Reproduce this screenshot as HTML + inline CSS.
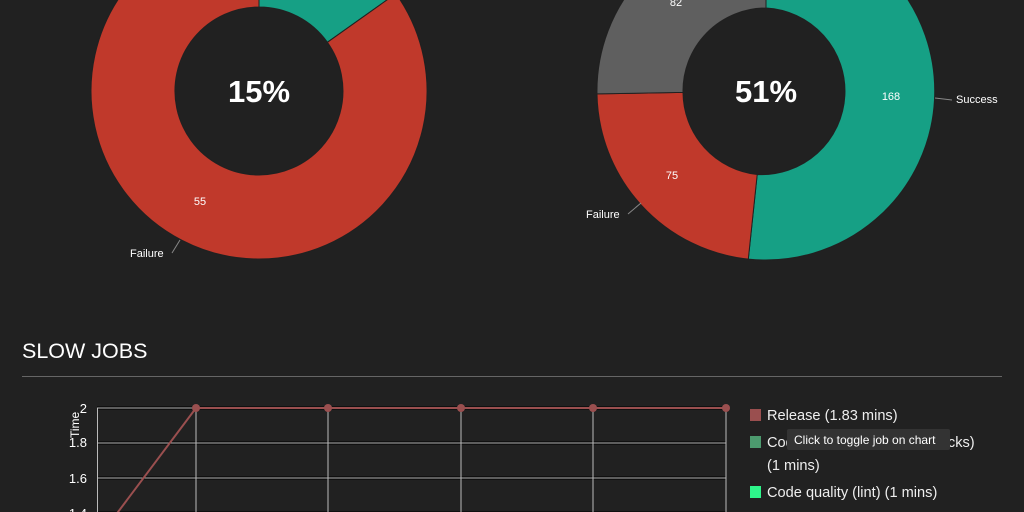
<!DOCTYPE html>
<html style="overflow:hidden;width:1024px;height:512px"><head><style>
html,body{margin:0;padding:0}
body{background:#212121;width:1024px;height:512px;overflow:hidden;position:relative;font-family:"Liberation Sans",sans-serif}
svg{display:block}
</style></head><body>
<svg width="1024" height="512" xmlns="http://www.w3.org/2000/svg" style="position:absolute;left:0;top:0">
<g stroke="#212121" stroke-width="1">
<path d="M259,-77 A168,168 0 0 1 395.9,-6.4 L327.4,42.3 A84,84 0 0 0 259,7 Z" fill="#16a085"/>
<path d="M395.9,-6.4 A168,168 0 1 1 259,-77 L259,7 A84,84 0 1 0 327.4,42.3 Z" fill="#c0392b"/>
<path d="M766,-78 A169,169 0 1 1 748.3,259.1 L757.2,174.5 A83,83 0 1 0 766,8 Z" fill="#16a085"/>
<path d="M748.3,259.1 A169,169 0 0 1 597,93.9 L683,92.4 A83,83 0 0 0 757.2,174.5 Z" fill="#c0392b"/>
<path d="M597,93.9 A169,169 0 0 1 766,-78 L766,8 A83,83 0 0 0 683,92.4 Z" fill="#5f5f5f"/>
</g>
<g font-weight="bold" fill="#fff" font-size="31" text-anchor="middle">
<text x="259" y="102">15%</text><text x="766" y="102">51%</text></g>
<g fill="#fff" font-size="11">
<text x="200" y="205" text-anchor="middle">55</text>
<text x="130" y="257">Failure</text>
<text x="891" y="100" text-anchor="middle">168</text>
<text x="956" y="103">Success</text>
<text x="672" y="179" text-anchor="middle">75</text>
<text x="586" y="218">Failure</text>
<text x="676" y="6" text-anchor="middle">82</text>
</g>
<g stroke="#888" stroke-width="1" fill="none">
<path d="M172,253 L180,240"/><path d="M935,98 L952,100"/><path d="M628,214 L641,203"/>
</g>
<text x="22" y="358" fill="#fff" font-size="21.5">SLOW JOBS</text>
<line x1="22" y1="376.5" x2="1002" y2="376.5" stroke="#666"/>
<g stroke="#000" stroke-width="3">
<line x1="97" y1="408" x2="726" y2="408"/><line x1="97" y1="443" x2="726" y2="443"/><line x1="97" y1="478" x2="726" y2="478"/><line x1="97" y1="513" x2="726" y2="513"/>
</g>
<g stroke="#bbb" stroke-width="1">
<line x1="97" y1="408" x2="726" y2="408"/><line x1="97" y1="443" x2="726" y2="443"/><line x1="97" y1="478" x2="726" y2="478"/><line x1="97" y1="513" x2="726" y2="513"/>
<line x1="97.5" y1="408" x2="97.5" y2="512"/><line x1="196" y1="408" x2="196" y2="512"/><line x1="328" y1="408" x2="328" y2="512"/><line x1="461" y1="408" x2="461" y2="512"/><line x1="593" y1="408" x2="593" y2="512"/><line x1="726" y1="408" x2="726" y2="512"/>
</g>
<g fill="#fff" font-size="13" text-anchor="end">
<text x="87" y="413">2</text><text x="87" y="447">1.8</text><text x="87" y="483">1.6</text><text x="87" y="518">1.4</text></g>
<text transform="translate(79,438) rotate(-90)" fill="#fff" font-size="12">Time</text>
<polyline points="97,540 196,408 726,408" fill="none" stroke="#9a4f4f" stroke-width="2"/>
<g fill="#9a4f4f"><circle cx="196" cy="408" r="4"/><circle cx="328" cy="408" r="4"/><circle cx="461" cy="408" r="4"/><circle cx="593" cy="408" r="4"/><circle cx="726" cy="408" r="4"/></g>
<rect x="750" y="409" width="11" height="12" fill="#9a4f4f"/>
<rect x="750" y="436" width="11" height="12" fill="#4c9a6e"/>
<rect x="750" y="486" width="11" height="12" fill="#2ef58a"/>
<g fill="#eee" font-size="14.6">
<text x="767" y="420">Release (1.83 mins)</text>
<text x="767" y="447">Code quality (types and checks)</text>
<text x="767" y="470">(1 mins)</text>
<text x="767" y="497">Code quality (lint) (1 mins)</text>
</g>
<rect x="787" y="429" width="163" height="21" fill="#333" rx="2"/>
<text x="794" y="444" fill="#fff" font-size="12">Click to toggle job on chart</text>
</svg>
</body></html>
